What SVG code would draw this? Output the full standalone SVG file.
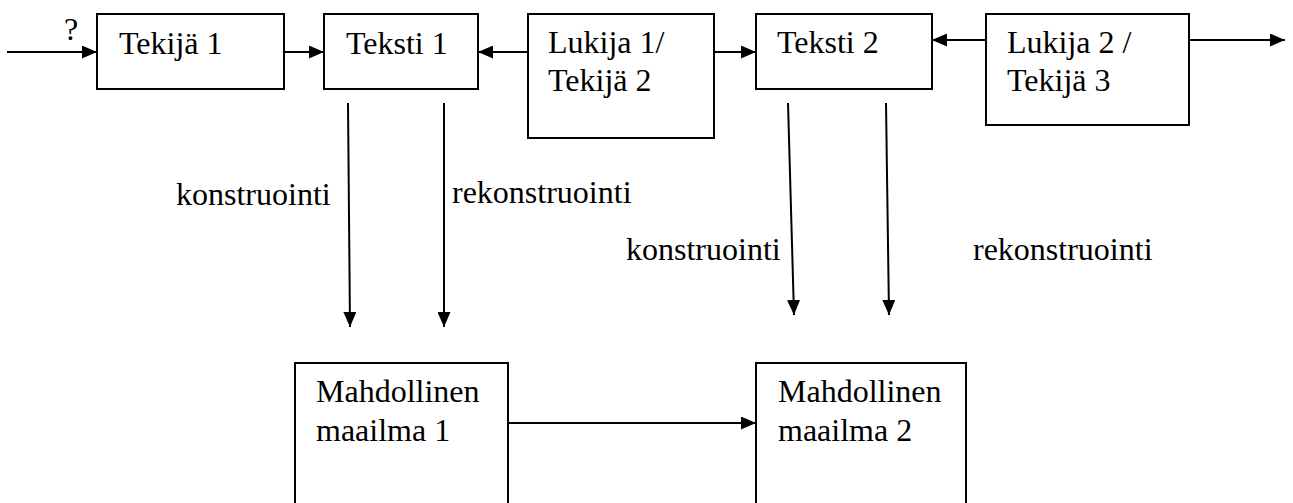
<svg xmlns="http://www.w3.org/2000/svg" width="1293" height="503" viewBox="0 0 1293 503">
<style>
.box{fill:#fff;stroke:#000;stroke-width:2}
text{font-family:'Liberation Serif','Times New Roman',Times,serif;font-size:32px;fill:#000}
.c{stroke:#000;stroke-width:2;fill:none;marker-end:url(#ah)}
</style>
<defs>
<marker id="ah" viewBox="0 0 15 13" refX="15" refY="6.5" markerWidth="15" markerHeight="13" markerUnits="userSpaceOnUse" orient="auto">
<path d="M0,0 L15,6.5 L0,13 Z" fill="#000"/>
</marker>
</defs>
<rect width="1293" height="503" fill="#fff"/>
<g id="connectors">
<line class="c" x1="7" y1="52" x2="97" y2="52"/>
<line class="c" x1="284" y1="52" x2="324" y2="52"/>
<line class="c" x1="528" y1="52" x2="478" y2="52"/>
<line class="c" x1="714" y1="52" x2="756" y2="52"/>
<line class="c" x1="986" y1="40" x2="932" y2="40"/>
<line class="c" x1="1189" y1="40" x2="1285" y2="40"/>
<line class="c" x1="348" y1="103" x2="350" y2="327"/>
<line class="c" x1="444" y1="103" x2="444" y2="327"/>
<line class="c" x1="788" y1="103" x2="794" y2="315"/>
<line class="c" x1="886" y1="103" x2="889" y2="315"/>
<line class="c" x1="508" y1="423" x2="756" y2="423"/>
</g>
<g id="labels">
<text x="64" y="40">?</text>
<text x="176" y="205">konstruointi</text>
<text x="452" y="203">rekonstruointi</text>
<text x="626" y="260">konstruointi</text>
<text x="973" y="260">rekonstruointi</text>
</g>
<g id="tekija1">
<rect class="box" x="97" y="14" width="187" height="75"/>
<text x="119" y="54">Tekijä 1</text>
</g>
<g id="teksti1">
<rect class="box" x="324" y="14" width="154" height="75"/>
<text x="346" y="54">Teksti 1</text>
</g>
<g id="lukija1">
<rect class="box" x="528" y="14" width="186" height="124"/>
<text x="548" y="53">Lukija 1/</text>
<text x="548" y="91">Tekijä 2</text>
</g>
<g id="teksti2">
<rect class="box" x="756" y="14" width="176" height="75"/>
<text x="777" y="53">Teksti 2</text>
</g>
<g id="lukija2">
<rect class="box" x="986" y="14" width="203" height="111"/>
<text x="1007" y="53">Lukija 2 /</text>
<text x="1007" y="91">Tekijä 3</text>
</g>
<g id="maailma1">
<rect class="box" x="295" y="363" width="213" height="150"/>
<text x="316" y="402">Mahdollinen</text>
<text x="316" y="441">maailma 1</text>
</g>
<g id="maailma2">
<rect class="box" x="756" y="363" width="210" height="150"/>
<text x="778" y="402">Mahdollinen</text>
<text x="778" y="441">maailma 2</text>
</g>
</svg>
